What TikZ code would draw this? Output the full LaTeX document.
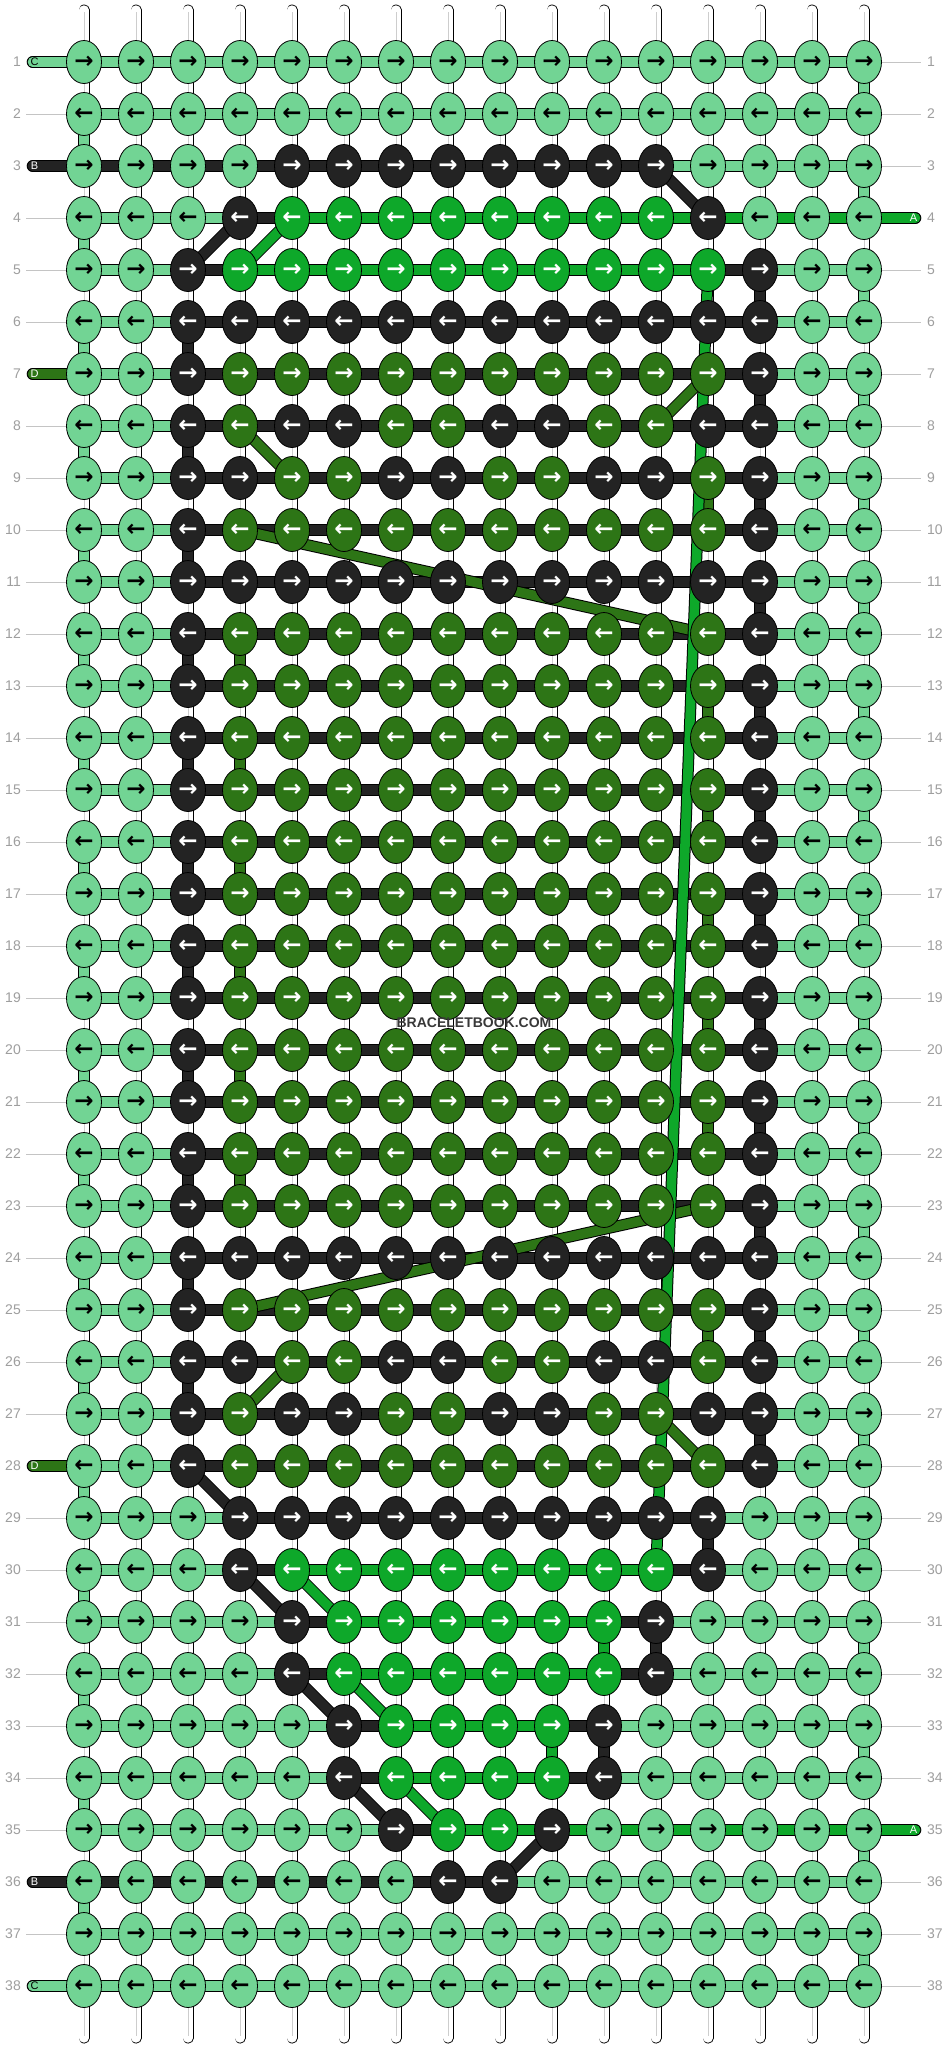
\documentclass[tikz,border=0pt]{standalone}
\usepackage{fontspec}
\setmainfont{Liberation Sans}
\newfontfamily\arrowfont{DejaVu Sans}
\usetikzlibrary{shapes.geometric}
\definecolor{cL}{RGB}{114,212,148}
\definecolor{cK}{RGB}{35,35,35}
\definecolor{cG}{RGB}{14,168,42}
\definecolor{cD}{RGB}{45,117,22}
\colorlet{tL}{black}
\colorlet{tK}{white}
\colorlet{tG}{white}
\colorlet{tD}{white}
\definecolor{numgray}{RGB}{158,158,158}
\definecolor{rulegray}{RGB}{196,196,196}
\definecolor{strandmid}{RGB}{205,205,205}

\newcommand\defrow[3]{\expandafter\edef\csname kn#1\endcsname{#2}\expandafter\edef\csname sg#1\endcsname{#3}}
\newcommand\strand[3]{\draw[line width=11.6pt, black] (#2) -- (#3);\draw[line width=9.6pt, c#1] (#2) -- (#3);}

\def\kAllL{L,L,L,L,L,L,L,L,L,L,L,L,L,L,L,L}
\def\sAllL{L,L,L,L,L,L,L,L,L,L,L,L,L,L,L}
\def\kBand{L,L,K,D,D,D,D,D,D,D,D,D,D,K,L,L}
\def\kBlack{L,L,K,K,K,K,K,K,K,K,K,K,K,K,L,L}
\def\sBand{L,L,K,K,K,K,K,K,K,K,K,K,K,L,L}
\def\kChkA{L,L,K,D,K,K,D,D,K,K,D,D,K,K,L,L}
\def\kChkB{L,L,K,K,D,D,K,K,D,D,K,K,D,K,L,L}

\defrow{1}{\kAllL}{\sAllL}
\defrow{2}{\kAllL}{\sAllL}
\defrow{3}{L,L,L,L,K,K,K,K,K,K,K,K,L,L,L,L}{K,K,K,K,K,K,K,K,K,K,K,L,L,L,L}
\defrow{4}{L,L,L,K,G,G,G,G,G,G,G,G,K,L,L,L}{L,L,L,K,G,G,G,G,G,G,G,G,G,G,G}
\defrow{5}{L,L,K,G,G,G,G,G,G,G,G,G,G,K,L,L}{L,L,K,G,G,G,G,G,G,G,G,G,K,L,L}
\defrow{6}{\kBlack}{\sBand}
\defrow{7}{\kBand}{\sBand}
\defrow{8}{\kChkA}{\sBand}
\defrow{9}{\kChkB}{\sBand}
\defrow{10}{\kBand}{\sBand}
\defrow{11}{\kBlack}{\sBand}
\defrow{12}{\kBand}{\sBand}
\defrow{13}{\kBand}{\sBand}
\defrow{14}{\kBand}{\sBand}
\defrow{15}{\kBand}{\sBand}
\defrow{16}{\kBand}{\sBand}
\defrow{17}{\kBand}{\sBand}
\defrow{18}{\kBand}{\sBand}
\defrow{19}{\kBand}{\sBand}
\defrow{20}{\kBand}{\sBand}
\defrow{21}{\kBand}{\sBand}
\defrow{22}{\kBand}{\sBand}
\defrow{23}{\kBand}{\sBand}
\defrow{24}{\kBlack}{\sBand}
\defrow{25}{\kBand}{\sBand}
\defrow{26}{\kChkB}{\sBand}
\defrow{27}{\kChkA}{\sBand}
\defrow{28}{\kBand}{\sBand}
\defrow{29}{L,L,L,K,K,K,K,K,K,K,K,K,K,L,L,L}{L,L,L,K,K,K,K,K,K,K,K,K,L,L,L}
\defrow{30}{L,L,L,K,G,G,G,G,G,G,G,G,K,L,L,L}{L,L,L,K,G,G,G,G,G,G,G,K,L,L,L}
\defrow{31}{L,L,L,L,K,G,G,G,G,G,G,K,L,L,L,L}{L,L,L,L,K,G,G,G,G,G,K,L,L,L,L}
\defrow{32}{L,L,L,L,K,G,G,G,G,G,G,K,L,L,L,L}{L,L,L,L,K,G,G,G,G,G,K,L,L,L,L}
\defrow{33}{L,L,L,L,L,K,G,G,G,G,K,L,L,L,L,L}{L,L,L,L,L,K,G,G,G,K,L,L,L,L,L}
\defrow{34}{L,L,L,L,L,K,G,G,G,G,K,L,L,L,L,L}{L,L,L,L,L,K,G,G,G,K,L,L,L,L,L}
\defrow{35}{L,L,L,L,L,L,K,G,G,K,L,L,L,L,L,L}{L,L,L,L,L,L,K,G,G,G,G,G,G,G,G}
\defrow{36}{L,L,L,L,L,L,L,K,K,L,L,L,L,L,L,L}{K,K,K,K,K,K,K,K,L,L,L,L,L,L,L}
\defrow{37}{\kAllL}{\sAllL}
\defrow{38}{\kAllL}{\sAllL}

\begin{document}
\begin{tikzpicture}[x=1pt,y=-1pt,
  knot/.style={ellipse, draw=black, line width=0.8pt, minimum width=35pt, minimum height=43pt, inner sep=0pt,
    font=\arrowfont\bfseries\fontsize{23}{23}\selectfont},
  rownum/.style={text=numgray, font=\fontsize{14}{14}\selectfont, inner sep=0pt},
  rowrule/.style={draw=rulegray, line width=1pt},
  lablet/.style={font=\fontsize{11}{11}\selectfont, inner sep=0pt}]
\fill[white] (0,0) rectangle (948,2048);
\useasboundingbox (0,0) rectangle (948,2048);

% knot positions
\foreach \r in {1,...,38}{
  \foreach \c in {0,...,15}{
    \coordinate (p-\r-\c) at ({84+52*\c},{62+52*(\r-1)});
  }
}

% vertical base strings
\foreach \c in {0,...,15}{
  \coordinate (t-\c) at ({84+52*\c},10);
  \coordinate (b-\c) at ({84+52*\c},2038);
  \draw[line width=11pt, black, line cap=round] (t-\c) -- (b-\c);
  \draw[line width=9.4pt, white, line cap=round] (t-\c) -- (b-\c);
  \draw[line width=0.6pt, strandmid] ([yshift=-2pt]t-\c) -- ([yshift=2pt]b-\c);
}

% horizontal segments
\foreach \r in {1,...,38}{
  \expandafter\let\expandafter\segl\csname sg\r\endcsname
  \foreach \cc [count=\i from 0] in \segl {
    \pgfmathtruncatemacro\j{\i+1}
    \strand{\cc}{p-\r-\i}{p-\r-\j}
  }
}

% row rules and numbers
\foreach \r in {1,...,38}{
  \coordinate (gl-\r) at (26,{62+52*(\r-1)});
  \coordinate (gr-\r) at (921,{62+52*(\r-1)});
  \node[rownum, anchor=east] (nl-\r) at (21,{62+52*(\r-1)}) {\r};
  \node[rownum, anchor=west] (nr-\r) at (927,{62+52*(\r-1)}) {\r};
}
\foreach \r in {2,4,5,6,8,9,10,11,12,13,14,15,16,17,18,19,20,21,22,23,24,25,26,27,29,30,31,32,33,34,35,37}{
  \draw[rowrule] (gl-\r) -- (p-\r-0);
}
\foreach \r in {1,2,3,5,6,7,8,9,10,11,12,13,14,15,16,17,18,19,20,21,22,23,24,25,26,27,28,29,30,31,32,33,34,36,37,38}{
  \draw[rowrule] (p-\r-15) -- (gr-\r);
}

% left label stubs
\foreach \r/\cc/\lt/\tc in {1/L/C/black, 3/K/B/white, 7/D/D/white, 28/D/D/white, 36/K/B/white, 38/L/C/black}{
  \coordinate (lab-\r) at (32.5,{62+52*(\r-1)});
  \draw[line width=11.6pt, black, line cap=round] (lab-\r) -- (p-\r-0);
  \draw[line width=9.6pt, c\cc, line cap=round] (lab-\r) -- (p-\r-0);
  \node[lablet, text=\tc] (labt-\r) at (34.5,{62+52*(\r-1)}) {\lt};
}
% right label stubs
\foreach \r in {4,35}{
  \coordinate (lab-\r) at (915.5,{62+52*(\r-1)});
  \draw[line width=11.6pt, black, line cap=round] (p-\r-15) -- (lab-\r);
  \draw[line width=9.6pt, cG, line cap=round] (p-\r-15) -- (lab-\r);
  \node[lablet, text=white] (labt-\r) at (913.5,{62+52*(\r-1)}) {A};
}

% vertical turns between rows
\foreach \r in {1,3,...,37}{\pgfmathtruncatemacro\s{\r+1}\strand{L}{p-\r-15}{p-\s-15}}
\foreach \r in {2,4,...,36}{\pgfmathtruncatemacro\s{\r+1}\strand{L}{p-\r-0}{p-\s-0}}
\foreach \r in {5,7,...,27}{\pgfmathtruncatemacro\s{\r+1}\strand{K}{p-\r-13}{p-\s-13}}
\foreach \r in {6,8,...,26}{\pgfmathtruncatemacro\s{\r+1}\strand{K}{p-\r-2}{p-\s-2}}
\foreach \r in {9,13,15,17,19,21,25}{\pgfmathtruncatemacro\s{\r+1}\strand{D}{p-\r-12}{p-\s-12}}
\foreach \r in {12,14,...,22}{\pgfmathtruncatemacro\s{\r+1}\strand{D}{p-\r-3}{p-\s-3}}
\foreach \r/\c/\cc in {29/12/K, 31/11/K, 33/10/K, 31/10/G, 33/9/G}{\pgfmathtruncatemacro\s{\r+1}\strand{\cc}{p-\r-\c}{p-\s-\c}}

% diagonal and long carried strings
\foreach \cc/\a/\b in {K/3-11/4-12, K/4-3/5-2, G/4-4/5-3, D/7-12/8-11, D/8-3/9-4, D/10-3/12-12,
  D/23-12/25-3, D/26-4/27-3, D/27-11/28-12, K/28-2/29-3, K/30-3/31-4, G/30-4/31-5,
  K/32-4/33-5, G/32-5/33-6, K/34-5/35-6, G/34-6/35-7, K/35-9/36-8, G/5-12/30-11}{
  \strand{\cc}{p-\a}{p-\b}
}

% knots
\foreach \r in {1,...,38}{
  \expandafter\let\expandafter\knl\csname kn\r\endcsname
  \pgfmathtruncatemacro\odd{mod(\r,2)}
  \foreach \cc [count=\i from 0] in \knl {
    \node[knot, fill=c\cc, text=t\cc] (k-\r-\i) at (p-\r-\i) {\ifnum\odd=1 →\else ←\fi};
  }
}

% watermark
\node[font=\bfseries\fontsize{14}{14}\selectfont, text=black!78, inner sep=1pt] (wm) at (474,1023) {BRACELETBOOK.COM};
\end{tikzpicture}
\end{document}
